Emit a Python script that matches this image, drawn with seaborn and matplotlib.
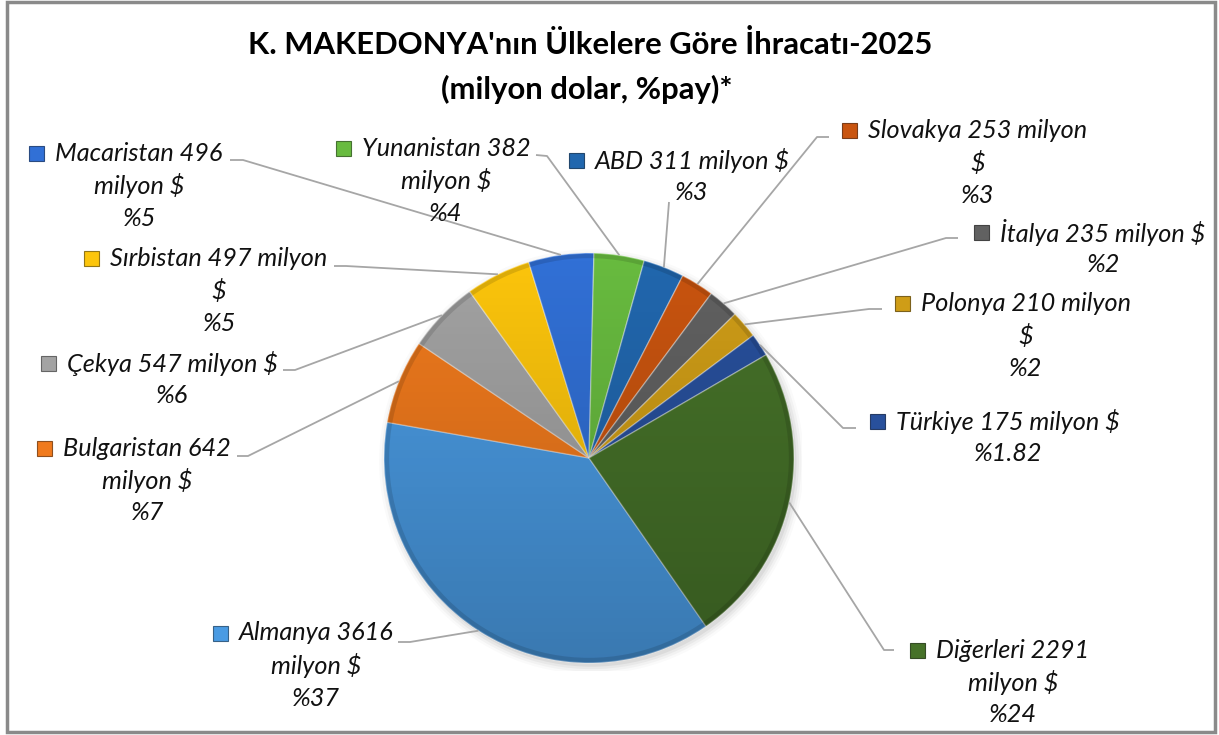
import numpy as np
import matplotlib
matplotlib.use('Agg')
import matplotlib.pyplot as plt
from matplotlib.patches import Rectangle, Circle
import seaborn as sns

# data
countries = ['Almanya', 'Bulgaristan', 'Çekya', 'Sırbistan', 'Macaristan', 'Yunanistan',
             'ABD', 'Slovakya', 'İtalya', 'Polonya', 'Türkiye', 'Diğerleri']
values = [3616, 642, 547, 497, 496, 382, 311, 253, 235, 210, 175, 2291]
shares = ['%37', '%7', '%6', '%5', '%5', '%4', '%3', '%3', '%2', '%2', '%1.82', '%24']
colors = ['#4a9be3', '#f07a1d', '#a3a3a3', '#fcc50c', '#3170d6', '#68bb3f',
          '#2167ae', '#c9540f', '#616161', '#cf9d17', '#28509c', '#467229']

title = "K. MAKEDONYA'nın Ülkelere Göre İhracatı-2025\n(milyon dolar, %pay)*"

# where excel wrapped each label ('' = no wrap)
wrap = {'Almanya': 'milyon', 'Bulgaristan': 'milyon', 'Çekya': '', 'Sırbistan': '$',
        'Macaristan': 'milyon', 'Yunanistan': 'milyon', 'ABD': '', 'Slovakya': '$',
        'İtalya': '', 'Polonya': '$', 'Türkiye': '', 'Diğerleri': 'milyon'}

# label centre x / first line y, in pixels from top-left
label_pos = {'Almanya': (316, 633), 'Bulgaristan': (147, 448), 'Çekya': (172, 363),
             'Sırbistan': (219, 258), 'Macaristan': (139, 153), 'Yunanistan': (446, 148),
             'ABD': (692, 160), 'Slovakya': (978, 130), 'İtalya': (1103, 232),
             'Polonya': (1026, 303), 'Türkiye': (1008, 421), 'Diğerleri': (1013, 650)}
# leader line end at the label side
leader = {'Almanya': [(398, 642), (410, 642)], 'Bulgaristan': [(237, 456), (248, 456)],
          'Çekya': [(283, 370), (295, 370)], 'Sırbistan': [(334, 266), (346, 266)],
          'Macaristan': [(230, 160), (243, 160)], 'Yunanistan': [(536, 155), (547, 156)],
          'ABD': [(669, 202)], 'Slovakya': [(829, 137), (817, 137)],
          'İtalya': [(958, 238), (946, 238)], 'Polonya': [(882, 309), (869, 309)],
          'Türkiye': [(856, 428), (843, 428)], 'Diğerleri': [(894, 650), (884, 650)]}

W, H = 1219, 735
sns.set_theme(style='white')
plt.rcParams['font.family'] = ['Lato', 'DejaVu Sans']

fig = plt.figure(figsize=(W / 100, H / 100), dpi=100)
fig.patch.set_facecolor('white')

cx0, cy0, R = 589, 458, 205
m = 1.04
ax = fig.add_axes([(cx0 - R * m) / W, (H - cy0 - R * m) / H, 2 * R * m / W, 2 * R * m / H])

# soft shadow
for k, a in enumerate([0.05, 0.04, 0.03, 0.02]):
    ax.add_patch(Circle((0.012, -0.018), 1.0 + 0.012 * k, color='black', alpha=a, lw=0, zorder=0))

wedges, _ = ax.pie(values, colors=colors, startangle=90 - 145.2, counterclock=False,
                   radius=1, wedgeprops=dict(edgecolor=(1, 1, 1, 0.35), linewidth=1.0))
for w in wedges:
    w.set_zorder(2)

# light from top, darker at the bottom
grad = np.zeros((256, 1, 4))
grad[:, 0, 3] = np.linspace(0.0, 0.22, 256)
im = ax.imshow(grad, extent=(-1, 1, -1, 1), origin='upper', aspect='auto', zorder=3)
im.set_clip_path(Circle((0, 0), 1.0, transform=ax.transData))
ax.add_patch(Circle((0, 0), 0.985, fill=False, ec=(0, 0, 0, 0.12), lw=3, zorder=4))
ax.set_xlim(-m, m)
ax.set_ylim(-m, m)
ax.axis('off')

# overlay canvas in pixel coords for labels and leader lines
cv = fig.add_axes([0, 0, 1, 1], zorder=5)
cv.set_xlim(0, W)
cv.set_ylim(H, 0)
cv.axis('off')

renderer = fig.canvas.get_renderer()
fs = 18.2
lh = 32.5
for i, (c, v, s) in enumerate(zip(countries, values, shares)):
    full = f'{c} {v} milyon $'
    if wrap[c]:
        j = full.rfind(' ' + wrap[c])
        lines = [full[:j], full[j + 1:], s]
    else:
        lines = [full, s]
    x, y = label_pos[c]
    for n, ln in enumerate(lines):
        t = cv.text(x, y + n * lh, ln, ha='center', va='center', fontsize=fs,
                    fontstyle='italic', color='#111111')
        if n == 0:
            bb = t.get_window_extent(renderer)
            kx = x - bb.width / 2 - 11 - 15
            cv.add_patch(Rectangle((kx, y - 7.5), 15, 15, facecolor=colors[i],
                                   edgecolor=sns.dark_palette(colors[i], 3)[1], lw=0.8))

    # leader line from wedge edge
    w = wedges[i]
    th = np.deg2rad((w.theta1 + w.theta2) / 2)
    px, py = ax.transData.transform((np.cos(th), np.sin(th)))
    pts = [(px, H - py)] + leader[c][::-1]
    cv.plot([p[0] for p in pts], [p[1] for p in pts], color='#a6a6a6', lw=1.3,
            solid_capstyle='butt')

fig.text(590 / W, 1 - 45 / H, title.split('\n')[0], ha='center', va='center',
         fontsize=22.3, fontweight='bold', color='black')
fig.text(587 / W, 1 - 89 / H, title.split('\n')[1], ha='center', va='center',
         fontsize=22.3, fontweight='bold', color='black')

# chart frame
cv.add_patch(Rectangle((7, 2), 1208, 730, fill=False, edgecolor='#8a8a8a', lw=2.5))

fig.savefig('out.png', dpi=100, facecolor='white')
